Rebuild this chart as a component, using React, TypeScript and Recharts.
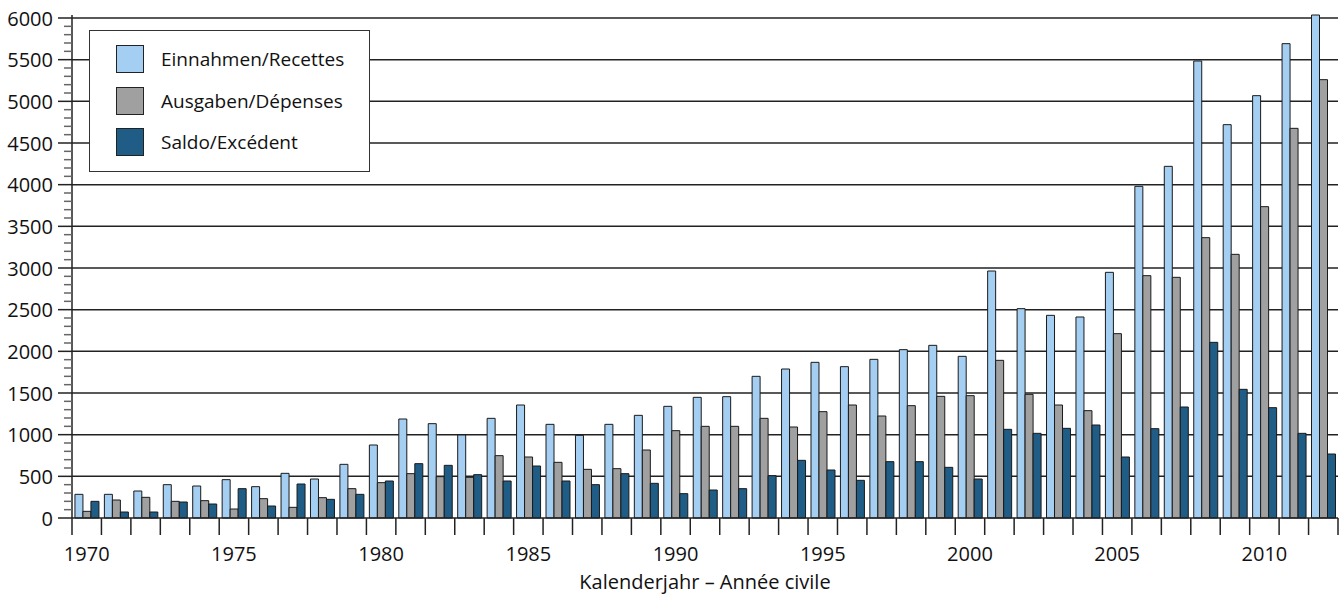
import React from 'react';
import { BarChart, Bar, XAxis, YAxis, CartesianGrid, Legend } from 'recharts';

const years = [
  '1970','1971','1972','1973','1974','1975','1976','1977','1978','1979',
  '1980','1981','1982','1983','1984','1985','1986','1987','1988','1989',
  '1990','1991','1992','1993','1994','1995','1996','1997','1998','1999',
  '2000','2001','2002','2003','2004','2005','2006','2007','2008','2009',
  '2010','2011','2012',
];
const einnahmen = [
  284, 284, 324, 400, 384, 460, 376, 536, 468, 644,
  876, 1188, 1132, 996, 1196, 1356, 1124, 992, 1124, 1232,
  1340, 1448, 1456, 1700, 1788, 1868, 1816, 1904, 2020, 2072,
  1940, 2964, 2512, 2432, 2412, 2948, 3980, 4220, 5484, 4720,
  5068, 5692, 6036,
];
const ausgaben = [
  80, 216, 248, 200, 208, 108, 232, 128, 244, 352,
  424, 532, 496, 488, 748, 732, 668, 584, 592, 816,
  1048, 1100, 1100, 1196, 1092, 1276, 1356, 1224, 1348, 1460,
  1468, 1892, 1484, 1356, 1288, 2212, 2908, 2888, 3364, 3164,
  3736, 4676, 5260,
];
const saldo = [
  200, 72, 72, 192, 168, 352, 144, 408, 224, 284,
  444, 652, 632, 520, 444, 624, 444, 400, 532, 416,
  292, 336, 352, 508, 692, 576, 452, 676, 676, 608,
  468, 1064, 1016, 1076, 1116, 732, 1072, 1332, 2108, 1544,
  1324, 1016, 768,
];
const yTicks = Array.from({ length: 61 }, (_, i) => i * 100);
const majorTicks = [500, 1000, 1500, 2000, 2500, 3000, 3500, 4000, 4500, 5000, 5500, 6000];

const seriesDefs = [
  { key: 'einnahmen', name: 'Einnahmen/Recettes', color: '#A5CFF2' },
  { key: 'ausgaben', name: 'Ausgaben/Dépenses', color: '#A0A0A0' },
  { key: 'saldo', name: 'Saldo/Excédent', color: '#1F5C86' },
];

const data = years.map((y, i) => ({
  year: y,
  einnahmen: einnahmen[i],
  ausgaben: ausgaben[i],
  saldo: saldo[i],
}));

const FONT = '"Open Sans", "Noto Sans", sans-serif';
const W = 1344;
const H = 599;
const MARGIN = { top: 15, right: 6, bottom: 0, left: 12 };
const YAXIS_W = 60;
const PLOT_W = W - MARGIN.left - YAXIS_W - MARGIN.right;
const BAND = PLOT_W / years.length;
const AXIS_COLOR = '#222';

const YTick = (props: any) => {
  const { x, y, payload } = props;
  const v = payload.value;
  const major = v % 500 === 0;
  return (
    <g>
      <line x1={x - (major ? 14 : 8)} x2={x} y1={y} y2={y} stroke={major ? AXIS_COLOR : '#666'} strokeWidth={1.5} />
      {major && (
        <text x={x - 19} y={y} textAnchor="end" dominantBaseline="central" fontFamily={FONT} fontSize={20} fill="#111">
          {v}
        </text>
      )}
    </g>
  );
};

const XTick = (props: any) => {
  const { x, y, payload, index } = props;
  const yr = parseInt(payload.value, 10);
  const left = x - BAND / 2;
  return (
    <g>
      <line x1={left} x2={left} y1={y} y2={y + 17} stroke={AXIS_COLOR} strokeWidth={1.5} />
      {index === years.length - 1 && (
        <line x1={x + BAND / 2} x2={x + BAND / 2} y1={y} y2={y + 17} stroke={AXIS_COLOR} strokeWidth={1.5} />
      )}
      {yr % 5 === 0 && (
        <text x={x} y={y + 43} textAnchor="middle" fontFamily={FONT} fontSize={20} fill="#111">
          {payload.value}
        </text>
      )}
    </g>
  );
};

const LegendBox = () => (
  <div
    style={{
      width: 281,
      height: 142,
      boxSizing: 'border-box',
      border: '1.5px solid #333',
      background: '#fff',
      position: 'relative',
      fontFamily: FONT,
    }}
  >
    {seriesDefs.map((s, i) => (
      <div key={s.key} style={{ position: 'absolute', left: 26, top: 14 + i * 41.5, height: 28, display: 'flex', alignItems: 'center' }}>
        <div style={{ width: 28, height: 28, boxSizing: 'border-box', background: s.color, border: '1.5px solid #222' }} />
        <span style={{ marginLeft: 17, fontSize: 19, color: '#111', whiteSpace: 'nowrap' }}>{s.name}</span>
      </div>
    ))}
  </div>
);

export default function App() {
  return (
    <div style={{ position: 'absolute', left: 0, top: 0, width: W, height: H, background: '#fff' }}>
      <BarChart width={W} height={H} data={data} margin={MARGIN} barCategoryGap="10%" barGap={0}>
        <CartesianGrid vertical={false} horizontalValues={majorTicks} stroke={AXIS_COLOR} strokeWidth={1.5} />
        <XAxis
          dataKey="year"
          interval={0}
          tickLine={false}
          tickSize={0}
          tickMargin={0}
          height={81}
          tick={<XTick />}
          axisLine={{ stroke: AXIS_COLOR, strokeWidth: 1.5 }}
          label={{ value: 'Kalenderjahr – Année civile', position: 'insideBottom', offset: 10, fontFamily: FONT, fontSize: 20, fill: '#111' }}
        />
        <YAxis
          width={YAXIS_W}
          domain={[0, 'dataMax']}
          ticks={yTicks}
          interval={0}
          tickLine={false}
          tickSize={0}
          tickMargin={0}
          tick={<YTick />}
          axisLine={{ stroke: AXIS_COLOR, strokeWidth: 1.5 }}
        />
        <YAxis
          yAxisId="right"
          orientation="right"
          width={0}
          tick={false}
          tickLine={false}
          axisLine={{ stroke: AXIS_COLOR, strokeWidth: 1.5 }}
        />
        <Legend
          layout="vertical"
          align="center"
          verticalAlign="middle"
          wrapperStyle={{ left: 89, top: 30, width: 281, height: 142 }}
          content={() => <LegendBox />}
        />
        {seriesDefs.map((s) => (
          <Bar
            key={s.key}
            dataKey={s.key}
            name={s.name}
            fill={s.color}
            stroke="#1a1a1a"
            strokeWidth={1}
            isAnimationActive={false}
          />
        ))}
      </BarChart>
    </div>
  );
}
